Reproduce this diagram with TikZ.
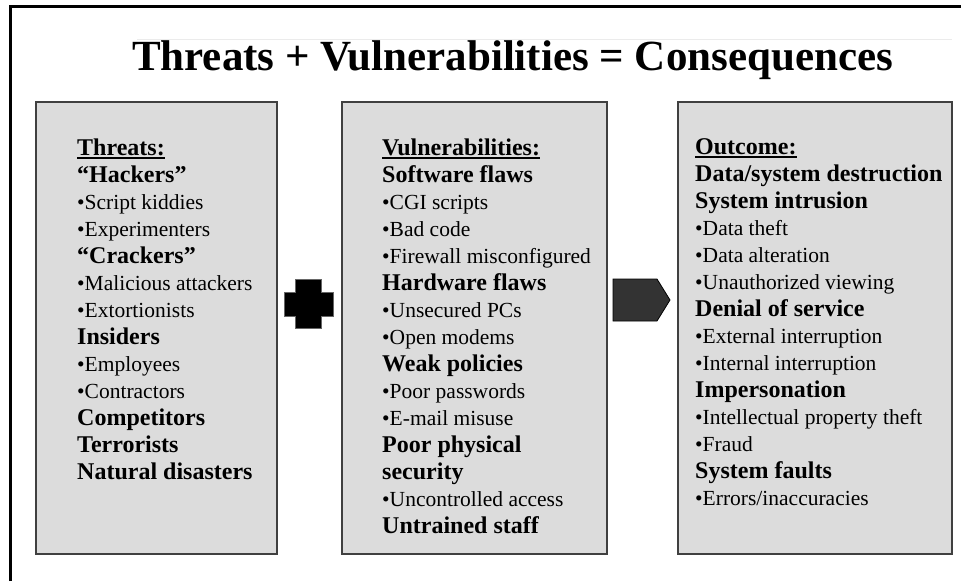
\documentclass[tikz,border=0pt]{standalone}
\usepackage{fontspec}
\setmainfont{Liberation Serif}
\usepackage{tikz}
\usetikzlibrary{positioning}

\definecolor{panelgray}{HTML}{DCDCDC}
\definecolor{framegray}{HTML}{404040}
\definecolor{arrowgray}{HTML}{333333}

\newlength{\headwd}
\newcommand{\headline}[1]{\settowidth{\headwd}{#1}#1\llap{\rule[-3.5pt]{\headwd}{2pt}}}
\newcommand{\bulletitem}[1]{{\mdseries\fontsize{21.5}{27}\selectfont\textbullet#1}}

\begin{document}
\begin{tikzpicture}[
    x=1pt, y=-1pt,
    panel/.style={draw=framegray, line width=1.6pt, fill=panelgray, anchor=north west, minimum height=452pt, inner sep=0pt},
    list/.style={align=left, anchor=north west, inner sep=0pt, font=\fontsize{24}{27}\selectfont\bfseries},
    symbol/.style={line width=0.8pt}
]
\useasboundingbox (0,0) rectangle (961,581);

% Frame and title
\draw[line width=3pt] (10.5,581) -- (10.5,6.5) -- (961,6.5);
\draw[black!8, line width=0.8pt] (137,39) -- (952,39);
\node[anchor=base, inner sep=0pt, font=\fontsize{43}{48}\selectfont\bfseries] (title) at (512.5,70) {Threats + Vulnerabilities = Consequences};

% Panels
\node[panel, minimum width=241pt] (threatbox) at (35,101) {};
\node[panel, minimum width=265pt] (vulnbox) at (341,101) {};
\node[panel, minimum width=274pt] (outcomebox) at (677,101) {};

% Lists
\node[list] (threatlist) at ([xshift=42pt, yshift=-37.5pt]threatbox.north west) {%
\headline{Threats:}\\
“Hackers”\\
\bulletitem{Script kiddies}\\
\bulletitem{Experimenters}\\
“Crackers”\\
\bulletitem{Malicious attackers}\\
\bulletitem{Extortionists}\\
Insiders\\
\bulletitem{Employees}\\
\bulletitem{Contractors}\\
Competitors\\
Terrorists\\
Natural disasters};

\node[list] (vulnlist) at ([xshift=41pt, yshift=-37.5pt]vulnbox.north west) {%
\headline{Vulnerabilities:}\\
Software flaws\\
\bulletitem{CGI scripts}\\
\bulletitem{Bad code}\\
\bulletitem{Firewall misconfigured}\\
Hardware flaws\\
\bulletitem{Unsecured PCs}\\
\bulletitem{Open modems}\\
Weak policies\\
\bulletitem{Poor passwords}\\
\bulletitem{E-mail misuse}\\
Poor physical\\
security\\
\bulletitem{Uncontrolled access}\\
Untrained staff};

\node[list] (outcomelist) at ([xshift=18pt, yshift=-37.5pt]outcomebox.north west) {%
\headline{Outcome:}\\
Data/system destruction\\
System intrusion\\
\bulletitem{Data theft}\\
\bulletitem{Data alteration}\\
\bulletitem{Unauthorized viewing}\\
Denial of service\\
\bulletitem{External interruption}\\
\bulletitem{Internal interruption}\\
Impersonation\\
\bulletitem{Intellectual property theft}\\
\bulletitem{Fraud}\\
System faults\\
\bulletitem{Errors/inaccuracies}};

% Plus and arrow
\fill[symbol, black, draw=black!60] (295,279) -- (321,279) -- (321,292) -- (333,292) -- (333,316) -- (321,316)
    -- (321,328) -- (295,328) -- (295,316) -- (284,316) -- (284,292) -- (295,292) -- cycle;
\filldraw[symbol, fill=arrowgray, draw=black] (613,279) -- (657,279) -- (670,300) -- (657,321) -- (613,321) -- cycle;

\end{tikzpicture}
\end{document}
